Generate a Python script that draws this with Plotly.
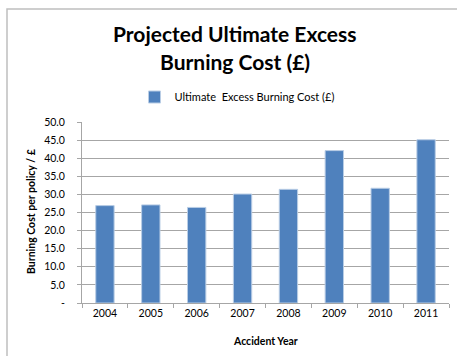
import plotly.graph_objects as go

# Projected ultimate excess burning cost by accident year
years = ["2004", "2005", "2006", "2007", "2008", "2009", "2010", "2011"]
burning_cost = [26.9, 27.1, 26.4, 30.1, 31.4, 42.1, 31.7, 45.1]
series_name = "Ultimate  Excess Burning Cost (£)"
y_ticks = [0, 5, 10, 15, 20, 25, 30, 35, 40, 45, 50]
y_tick_text = ["-"] + [f"{v:.1f}" for v in y_ticks[1:]]

FONT = "Lato, 'Open Sans', sans-serif"
BAR = "#4f81bd"
GRID = "#a6a6a6"

W, H = 457, 356
ML, MR, MT, MB = 82, 8, 122, 53
pw, ph = W - ML - MR, H - MT - MB


def px_x(x):
    return (x - ML) / pw


def px_y(y):
    return (H - MB - y) / ph


fig = go.Figure()
fig.add_trace(go.Bar(
    x=years, y=burning_cost, name=series_name,
    marker=dict(color=BAR, line=dict(color="#b9cde5", width=1)),
    showlegend=True,
))

fig.update_layout(
    width=W, height=H,
    margin=dict(l=ML, r=MR, t=MT, b=MB, autoexpand=False),
    paper_bgcolor="white", plot_bgcolor="white",
    font=dict(family=FONT, color="#000000", size=10),
    bargap=0.6,
    showlegend=True,
    legend=dict(
        orientation="h", x=px_x(237), xanchor="center",
        y=1 - 97 / H, yref="container", yanchor="middle",
        font=dict(size=11, family=FONT),
        itemwidth=30, bgcolor="rgba(0,0,0,0)",
    ),
    xaxis=dict(
        showgrid=False, showline=True, linecolor=GRID, linewidth=1,
        ticks="outside", tickson="boundaries", ticklen=4, tickcolor=GRID,
        tickfont=dict(size=10.5, family=FONT), fixedrange=True,
    ),
    yaxis=dict(
        range=[0, 50], tickvals=y_ticks, ticktext=y_tick_text,
        showgrid=True, gridcolor=GRID, gridwidth=1,
        showline=True, linecolor=GRID, linewidth=1,
        ticks="outside", ticklen=4, tickcolor=GRID,
        ticklabelstandoff=10,
        tickfont=dict(size=10.5, family=FONT), zeroline=False,
    ),
)

# Chart title (two lines) and axis titles
fig.add_annotation(text="<b>Projected Ultimate Excess</b>", x=px_x(235), y=px_y(33),
                   xref="paper", yref="paper", showarrow=False,
                   font=dict(size=21, family=FONT), xanchor="center", yanchor="middle")
fig.add_annotation(text="<b>Burning Cost (£)</b>", x=px_x(235), y=px_y(62),
                   xref="paper", yref="paper", showarrow=False,
                   font=dict(size=21, family=FONT), xanchor="center", yanchor="middle")
fig.add_annotation(text="<b>Burning Cost per policy / £</b>", x=px_x(31), y=px_y(212),
                   xref="paper", yref="paper", showarrow=False, textangle=-90,
                   font=dict(size=10.5, family=FONT), xanchor="center", yanchor="middle")
fig.add_annotation(text="<b>Accident Year</b>", x=px_x(265), y=px_y(341),
                   xref="paper", yref="paper", showarrow=False,
                   font=dict(size=10.5, family=FONT), xanchor="center", yanchor="middle")

# Chart frame
fig.add_shape(type="rect", xref="paper", yref="paper",
              x0=px_x(7), x1=px_x(470), y0=px_y(9), y1=px_y(370),
              line=dict(color="#bfbfbf", width=1.5), layer="below")

fig.write_html("out.html")
